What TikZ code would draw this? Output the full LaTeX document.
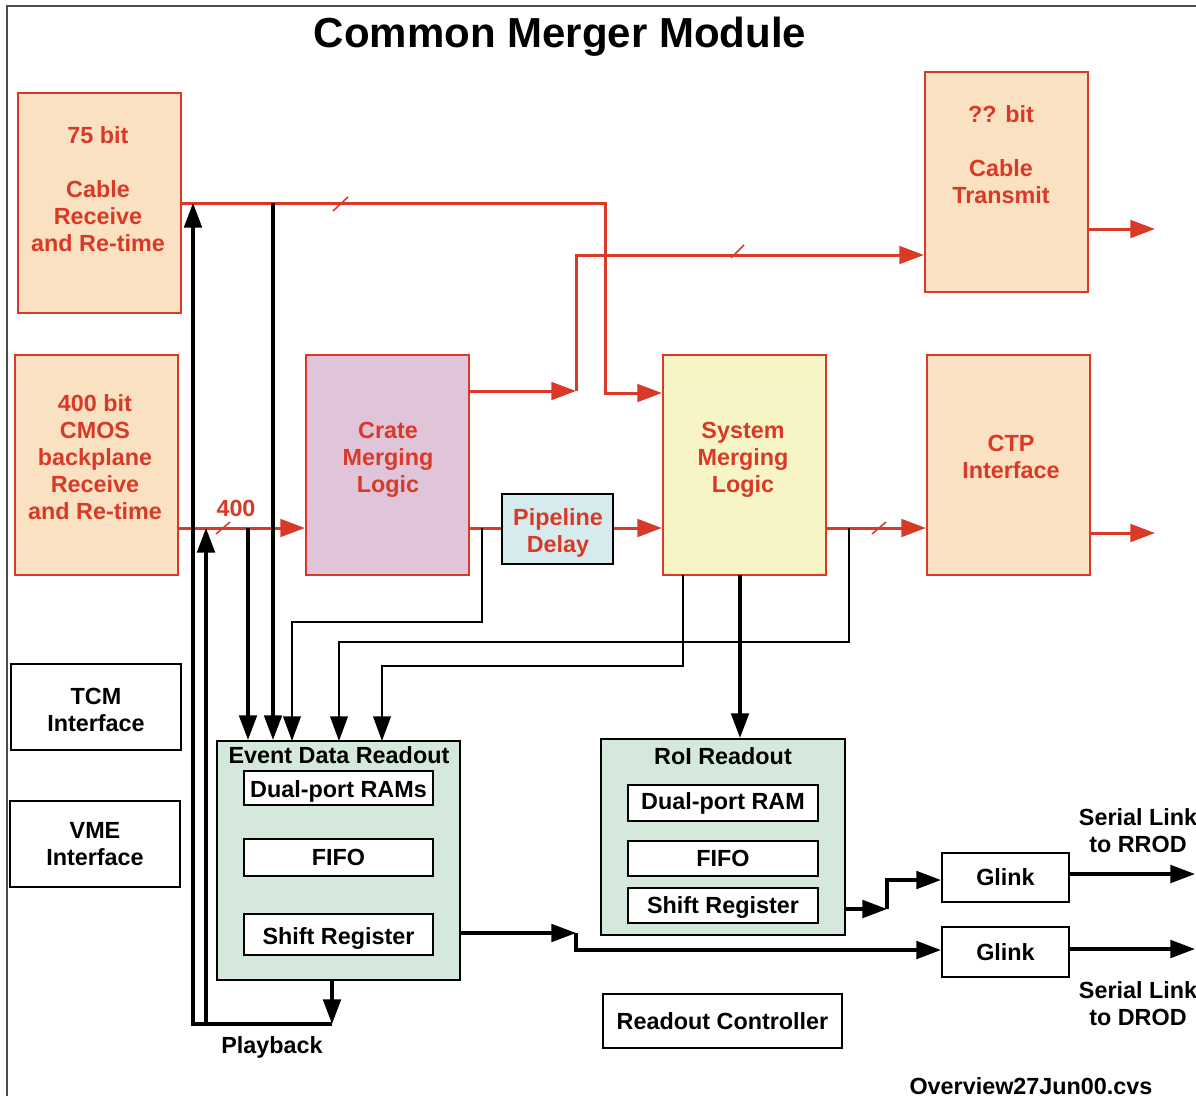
\documentclass[tikz,border=0pt]{standalone}
\usepackage{fontspec}
\setmainfont{Liberation Sans}
\usetikzlibrary{arrows.meta,fit}
\definecolor{cmred}{RGB}{217,58,39}
\definecolor{peach}{RGB}{249,225,194}
\definecolor{lilac}{RGB}{224,197,218}
\definecolor{lemon}{RGB}{247,245,197}
\definecolor{paleblue}{RGB}{214,235,238}
\definecolor{palegreen}{RGB}{212,232,220}
\begin{document}
\begin{tikzpicture}[x=0.02cm,y=-0.02cm,
  lbl/.style={font=\bfseries\fontsize{13.3}{15.4}\selectfont, align=center, inner sep=0pt},
  rtxt/.style={lbl, text=cmred},
  ktxt/.style={lbl, text=black},
  rbox/.style={draw=cmred, line width=1.2pt, inner sep=0pt},
  kbox/.style={draw=black, line width=1.2pt, inner sep=0pt},
  rl/.style={draw=cmred, line width=1.7pt},
  rar/.style={rl, -{Triangle[length=14pt,width=10pt]}},
  kl/.style={draw=black, line width=1.9pt},
  kar/.style={kl, -{Triangle[length=14pt,width=10pt]}},
  tl/.style={draw=black, line width=1.1pt},
  tar/.style={tl, -{Triangle[length=14pt,width=10pt]}},
  tick/.style={draw=cmred, line width=0.9pt}
]
\useasboundingbox (0,0) rectangle (1196,1096);
% frame
\draw[line width=0.6pt, black!70] (7,1096) -- (7,6) -- (1196,6);
\node[font=\bfseries\fontsize{23.9}{28}\selectfont, inner sep=0pt] (title) at (560,37) {Common Merger Module};

% red boxes
\node[rbox, fill=peach, fit={(18,93) (181,313)}] (rx75) {};
\node[rbox, fill=peach, fit={(15,355) (178,575)}] (rx400) {};
\node[rbox, fill=peach, fit={(925,72) (1088,292)}] (tx) {};
\node[rbox, fill=lilac, fit={(306,355) (469,575)}] (crate) {};
\node[rbox, fill=lemon, fit={(663,355) (826,575)}] (sys) {};
\node[rbox, fill=peach, fit={(927,355) (1090,575)}] (ctp) {};
\node[kbox, fill=paleblue, fit={(502,494) (613,564)}] (pipe) {};

\node[rtxt] (t75) at (98,189) {75 bit\\\mbox{}\\Cable\\Receive\\and Re-time};
\node[rtxt] (t400) at (95,457) {400 bit\\CMOS\\backplane\\Receive\\and Re-time};
\node[rtxt] (ttx) at (1001,155) {?? bit\\\mbox{}\\Cable\\Transmit};
\node[rtxt] (tcrate) at (388,460) {Crate\\Merging\\Logic};
\node[rtxt] (tsys) at (743,460) {System\\Merging\\Logic};
\node[rtxt] (tctp) at (1011,457) {CTP\\Interface};
\node[rtxt] (tpipe) at (558,533) {Pipeline\\Delay};

% black boxes
\node[kbox, fit={(11,664) (181,750)}] (tcm) {};
\node[ktxt, yshift=-1.7pt] at (tcm.center) (ttcm) {TCM\\Interface};
\node[kbox, fit={(10,801) (180,887)}] (vme) {};
\node[ktxt] at (vme.center) (tvme) {VME\\Interface};

\node[kbox, fill=palegreen, fit={(217,741) (460,980)}] (edr) {};
\node[ktxt] (tedr) at (339,755) {Event Data Readout};
\node[kbox, fill=white, fit={(244,771) (433,805)}] (edram) {};
\node[ktxt, yshift=-1.7pt] at (edram.center) (tedram) {Dual-port RAMs};
\node[kbox, fill=white, fit={(244,839) (433,876)}] (edfifo) {};
\node[ktxt] at (edfifo.center) (tedfifo) {FIFO};
\node[kbox, fill=white, fit={(244,914) (433,955)}] (edsr) {};
\node[ktxt, yshift=-2pt] at (edsr.center) (tedsr) {Shift Register};

\node[kbox, fill=palegreen, fit={(601,739) (845,935)}] (roi) {};
\node[ktxt] (troi) at (723,756) {RoI Readout};
\node[kbox, fill=white, fit={(628,785) (818,821)}] (roiram) {};
\node[ktxt] at (roiram.center) (troiram) {Dual-port RAM};
\node[kbox, fill=white, fit={(628,841) (818,876)}] (roififo) {};
\node[ktxt] at (roififo.center) (troififo) {FIFO};
\node[kbox, fill=white, fit={(628,888) (818,923)}] (roisr) {};
\node[ktxt, yshift=-1pt] at (roisr.center) (troisr) {Shift Register};

\node[kbox, fit={(942,853) (1069,902)}] (g1) {};
\node[ktxt] at (g1.center) (tg1) {Glink};
\node[kbox, fit={(942,927) (1069,977)}] (g2) {};
\node[ktxt] at (g2.center) (tg2) {Glink};
\node[kbox, fit={(603,994) (842,1048)}] (rc) {};
\node[ktxt] at (rc.center) (trc) {Readout Controller};

\node[ktxt] (srrod) at (1138,831) {Serial Link\\to RROD};
\node[ktxt] (sdrod) at (1138,1004) {Serial Link\\to DROD};
\node[ktxt] (play) at (272,1047) {Playback};
\node[ktxt] (ovw) at (1031,1086) {Overview27Jun00.cvs};
\node[rtxt] (n400) at (236,508) {400};

% level coordinates
\coordinate (L255) at (0,255);
\coordinate (L391) at (0,391);
\coordinate (L393) at (0,393);
\coordinate (L528) at (0,528);
\coordinate (L229) at (0,229);
\coordinate (L533) at (0,533);
\coordinate (b1) at (576,391);
\coordinate (o1) at (1155,229);
\coordinate (o2) at (1155,533);

% red connectors
\draw[rar] (rx75.east) -- (605,203) -- (605,393) -- (sys.west |- L393);
\draw[rar] (crate.east |- L391) -- (b1);
\draw[rar] (b1) |- (tx.west |- L255);
\draw[rar] (rx400.east |- L528) -- (crate.west |- L528);
\draw[rl] (crate.east |- L528) -- (pipe.west |- L528);
\draw[rar] (pipe.east |- L528) -- (sys.west |- L528);
\draw[rar] (sys.east |- L528) -- (ctp.west |- L528);
\draw[rar] (tx.east |- L229) -- (o1);
\draw[rar] (ctp.east |- L533) -- (o2);
% bus ticks
\draw[tick] (333,211) -- (348,197);
\draw[tick] (731,258) -- (744,245);
\draw[tick] (216,534) -- (230,522);
\draw[tick] (872,534) -- (886,522);

% black connectors
\coordinate (pbL) at (193,1024);
\coordinate (pbM) at (206,1024);
\coordinate (pbR) at (332,1024);
\draw[kar] (edr.south -| pbR) -- (pbR);
\draw[kar] (pbR) -- (pbL) -- (pbL |- rx75.east);
\draw[kar] (pbM) -- (pbM |- L528);
\coordinate (c273) at (273,203);
\draw[kar] (c273) -- (c273 |- edr.north);
\coordinate (c248) at (248,528);
\draw[kar] (c248) -- (c248 |- edr.north);
\draw[tar] (482,528) -- (482,622) -- (292,622) -- (292,741);
\draw[tar] (849,528) -- (849,642) -- (339,642) -- (339,741);
\draw[tar] (683,575) -- (683,666) -- (382,666) -- (382,741);
\coordinate (c740) at (740,575);
\draw[kar] (c740) -- (c740 |- roi.north);

\coordinate (e1) at (576,933);
\draw[kar] (edr.east |- e1) -- (e1);
\draw[kar] (e1) -- (576,950) -- (g2.west |- 0,950);
\coordinate (r1) at (887,909);
\draw[kar] (roi.east |- r1) -- (r1);
\draw[kar] (r1) -- (887,880) -- (g1.west |- 0,880);
\coordinate (o3) at (1195,874);
\coordinate (o4) at (1195,949);
\draw[kar] (g1.east |- o3) -- (o3);
\draw[kar] (g2.east |- o4) -- (o4);
\end{tikzpicture}
\end{document}
